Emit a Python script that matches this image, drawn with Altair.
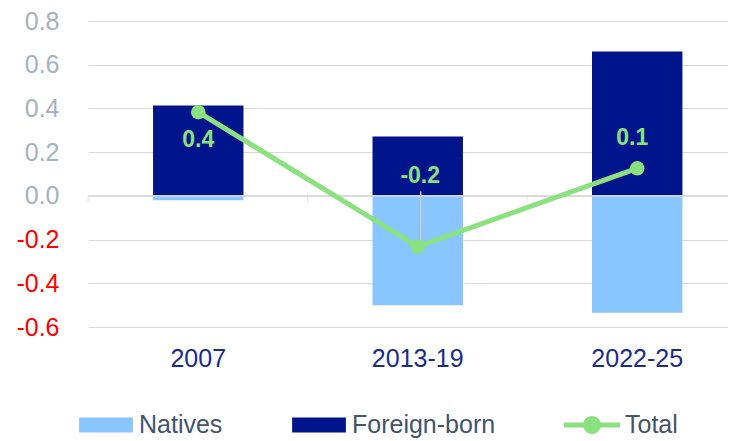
import altair as alt
import pandas as pd

periods = ["2007", "2013-19", "2022-25"]
natives = [-0.02, -0.50, -0.535]
foreign = [0.413, 0.271, 0.661]
total = [0.383, -0.232, 0.126]
series_names = ["Natives", "Foreign-born", "Total"]
y_ticks = [-0.6, -0.4, -0.2, 0.0, 0.2, 0.4, 0.6, 0.8]

C_NAT = "#89C6FF"
C_FOR = "#00148C"
C_TOT = "#8BE17F"
FONT = "Liberation Sans"

bars_df = pd.DataFrame(
    [{"period": p, "series": "Natives", "value": v} for p, v in zip(periods, natives)]
    + [{"period": p, "series": "Foreign-born", "value": v} for p, v in zip(periods, foreign)]
)
tot_df = pd.DataFrame({"period": periods, "total": total})
leg_df = pd.DataFrame({"series": series_names})

x_scale = alt.Scale(domain=periods, paddingInner=0.588, paddingOuter=0.252, align=0.588)
y_scale = alt.Scale(domain=[-0.6, 0.8], nice=False, zero=False)

color_scale = alt.Scale(domain=series_names, range=[C_NAT, C_FOR, C_TOT])
RECT = "M-0.96,-0.27H0.96V0.27H-0.96Z"
LINEDOT = ("M-1,-0.09H1V0.09H-1Z "
           "M-0.32,0A0.32,0.32 0 1,1 0.32,0A0.32,0.32 0 1,1 -0.32,0Z")
shape_scale = alt.Scale(domain=series_names, range=[RECT, RECT, LINEDOT])

legend_def = alt.Legend(title=None, orient="none", legendX=-10, legendY=376,
                        direction="horizontal", columnPadding=68,
                        labelFontSize=25, labelFont=FONT, labelColor="#44546A",
                        labelOffset=5, symbolSize=3136, symbolStrokeWidth=0,
                        labelLimit=0, padding=0)

x_axis = alt.Axis(title=None, domain=False, ticks=False, grid=False, labelAngle=0,
                  labelFontSize=25, labelFont=FONT, labelColor="#1A2B8F",
                  labelPadding=19)
y_axis = alt.Axis(title=None, values=y_ticks, domain=False, ticks=False,
                  grid=True, gridColor="#D9D9D9", gridWidth=1,
                  labelFontSize=25, labelFont=FONT, labelPadding=29,
                  labelExpr="datum.value < 0 ? '-' + format(-datum.value, '.1f') : format(datum.value, '.1f')",
                  labelColor={"condition": {"test": "datum.value < 0", "value": "#FF0000"},
                              "value": "#A6B1BD"})

bars = alt.Chart(bars_df).mark_bar(cornerRadius=0).encode(
    x=alt.X("period:N", scale=x_scale, axis=x_axis),
    y=alt.Y("value:Q", scale=y_scale, axis=y_axis, stack="zero"),
    color=alt.Color("series:N", scale=color_scale, legend=legend_def),
)

ticks = alt.Chart(tot_df).mark_tick(orient="vertical", size=7, thickness=1,
                                    color="#D0D4D9", yOffset=3.5, xOffset=-65).encode(
    x=alt.X("period:N", scale=x_scale, bandPosition=0),
    y=alt.datum(0),
)

zero_rule = alt.Chart(tot_df).mark_rule(color="#D9D9D9", strokeWidth=1).encode(
    y=alt.datum(0),
)

leader = alt.Chart(tot_df).transform_filter("datum.period == '2013-19'").mark_rule(
    color="#C8C8C8", strokeWidth=1.5, xOffset=3).encode(
    x=alt.X("period:N", scale=x_scale),
    y=alt.Y("total:Q", scale=y_scale),
    y2=alt.datum(0.02),
)

line = alt.Chart(tot_df).mark_line(color=C_TOT, strokeWidth=5).encode(
    x=alt.X("period:N", scale=x_scale),
    y=alt.Y("total:Q", scale=y_scale),
)
points = alt.Chart(tot_df).mark_circle(color=C_TOT, size=210, opacity=1).encode(
    x=alt.X("period:N", scale=x_scale),
    y=alt.Y("total:Q", scale=y_scale),
)

offsets = {"2007": (0, 28), "2013-19": (2.5, -71), "2022-25": (-5, -30)}
labels = []
for p in periods:
    dx, dy = offsets[p]
    labels.append(
        alt.Chart(tot_df).transform_filter(f"datum.period == '{p}'").transform_calculate(
            lab="datum.total < 0 ? '-' + format(-datum.total, '.1f') : format(datum.total, '.1f')"
        ).mark_text(color=C_TOT, fontSize=23, fontWeight="bold", font=FONT,
                    dx=dx, dy=dy, baseline="middle").encode(
            x=alt.X("period:N", scale=x_scale),
            y=alt.Y("total:Q", scale=y_scale),
            text="lab:N",
        )
    )

legend_layer = alt.Chart(leg_df).transform_filter("false").mark_point(
    filled=True, opacity=1, size=3136).encode(
    color=alt.Color("series:N", scale=color_scale, legend=legend_def),
    shape=alt.Shape("series:N", scale=shape_scale, legend=legend_def),
)

chart = alt.layer(bars, zero_rule, ticks, leader, line, points, *labels, legend_layer).properties(
    width=640, height=306,
    autosize=alt.AutoSizeParams(type="none"),
    padding={"left": 80, "top": 13, "right": 0, "bottom": 114},
).configure(font=FONT).configure_view(stroke=None)

chart.save("out.html", embed_options={"renderer": "svg", "actions": False})
